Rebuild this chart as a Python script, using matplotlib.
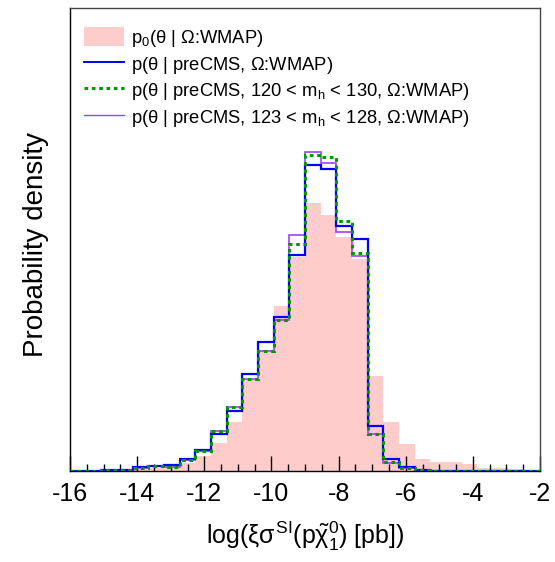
import numpy as np, matplotlib; matplotlib.use("Agg")
import matplotlib.pyplot as plt
from matplotlib.patches import Patch
from matplotlib.lines import Line2D

plt.rcParams["font.family"] = ["Liberation Sans", "DejaVu Sans"]
plt.rcParams["mathtext.fontset"] = "custom"
plt.rcParams["mathtext.rm"] = "Liberation Sans"
plt.rcParams["mathtext.it"] = "Liberation Sans"
plt.rcParams["mathtext.bf"] = "Liberation Sans:bold"
plt.rcParams["axes.unicode_minus"] = False

# 30 bins from -16 to -2 (heights in arbitrary density units)
edges = np.linspace(-16, -2, 31)
prior = [0.3, 0.5, 0.7, 1.0, 2.0, 3.0, 4.0, 8.0, 15.5, 27.7, 49.3, 91, 121, 165.5, 214,
         268, 256, 234, 212, 95, 49, 27, 12, 9, 9.5, 7, 3.3, 3.0, 1.8, 1.0]
precms = [0.5, 0.5, 0.8, 1.3, 4.3, 5.5, 6.0, 12.2, 21, 37, 60.3, 97, 129, 153.7, 216.5,
          306, 302.3, 245.3, 232.3, 45.3, 12.3, 4.5, 1.2, 0.3, 0.2, 0.1, 0.1, 0.1, 0.1, 0.1]
mh120 = [0.5, 0.5, 0.7, 1.2, 3.3, 4.8, 4.2, 11.3, 20.3, 40.5, 64.3, 92.5, 120.5, 151, 227,
         315.7, 313.7, 250, 218.3, 36.7, 8.7, 2.7, 1.0, 0.3, 0.2, 0.1, 0.1, 0.1, 0.1, 0.1]
mh123 = [0.5, 0.5, 0.7, 1.2, 3.3, 4.8, 4.2, 11.3, 20.3, 40.5, 64.3, 92.5, 120.5, 151, 236.3,
         319, 308, 238.7, 215, 36.7, 8.5, 2.7, 1.0, 0.3, 0.2, 0.1, 0.1, 0.1, 0.1, 0.1]
labels = [r"p$_0$($\theta$ | $\Omega$:WMAP)",
          r"p($\theta$ | preCMS, $\Omega$:WMAP)",
          r"p($\theta$ | preCMS, 120 < m$_{\rm h}$ < 130, $\Omega$:WMAP)",
          r"p($\theta$ | preCMS, 123 < m$_{\rm h}$ < 128, $\Omega$:WMAP)"]

fig = plt.figure(figsize=(5.55, 5.62), dpi=100)
ax = fig.add_axes([70/555, 91/562, 470/555, 463/562])
ax.stairs(prior, edges, fill=True, color="#ffcccc", zorder=0.5)
ax.stairs(mh123, edges, color="#a040ff", lw=1.2, zorder=3)
ax.stairs(precms, edges, color="blue", lw=1.6, zorder=3.1)
ax.stairs(mh120, edges, color="#009900", lw=2.2, ls=(0, (1.2, 1.2)), zorder=3.2)

ax.set_xlim(-16, -2); ax.set_ylim(0, 463)
ax.set_xticks(np.arange(-16, -1, 2))
ax.set_xticks(np.arange(-16, -1.9, 0.5), minor=True)
ax.tick_params(axis="x", which="major", direction="in", length=10.5, width=1, labelsize=18, pad=8)
ax.tick_params(axis="x", which="minor", direction="in", length=5, width=1)
ax.set_yticks([])
for s in ax.spines.values(): s.set_linewidth(1)
ax.spines["right"].set_color("#444444"); ax.spines["top"].set_color("#444444")

ax.set_xlabel(r"log($\xi\sigma^{\rm SI}$(p$\tilde{\chi}_1^0$) [pb])", fontsize=18, labelpad=10)
ax.set_ylabel("Probability density", fontsize=20)
ax.yaxis.set_label_coords(-0.045, 0.49)

handles = [Patch(facecolor="#ffcccc", edgecolor="none"),
           Line2D([], [], color="blue", lw=1.4),
           Line2D([], [], color="#009900", lw=2.2, ls=(0, (1.2, 1.2))),
           Line2D([], [], color="#a040ff", lw=1.0)]
ax.legend(handles, labels, loc="upper left", bbox_to_anchor=(0.03, 0.958), frameon=False,
          borderaxespad=0, borderpad=0, fontsize=13.2, handlelength=2.2, handleheight=1.2,
          handletextpad=0.35, labelspacing=0.27)

plt.savefig("out.png", dpi=100)
plt.close()
